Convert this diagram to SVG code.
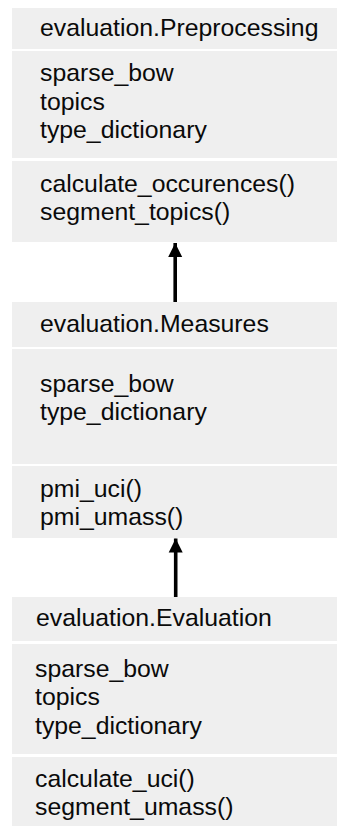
<svg xmlns="http://www.w3.org/2000/svg" width="337" height="826" viewBox="0 0 337 826">
  <style>
    .sec { fill: #efefef; }
    .t { font-family: "Liberation Sans", Arial, Helvetica, sans-serif; font-size: 24.8px; fill: #0a0a0a; }
    .conn { stroke: #000; stroke-width: 3.6; fill: none; }
  </style>
  <defs>
    <marker id="head" markerUnits="userSpaceOnUse" markerWidth="16" markerHeight="16" viewBox="0 0 16 16" refX="14" refY="8" orient="auto">
      <path d="M0,1 L14,8 L0,15 Z" fill="#000"/>
    </marker>
  </defs>
  <rect width="337" height="826" fill="#fff"/>

  <!-- class: evaluation.Preprocessing -->
  <g id="preprocessing">
    <rect class="sec" x="12" y="8" width="325" height="41"/>
    <rect class="sec" x="12" y="51" width="325" height="107"/>
    <rect class="sec" x="12" y="161" width="325" height="81"/>
    <text class="t" x="40" y="36">evaluation.Preprocessing</text>
    <text class="t" x="40" y="81">sparse_bow</text>
    <text class="t" x="40" y="109.5">topics</text>
    <text class="t" x="40" y="138">type_dictionary</text>
    <text class="t" x="40" y="191.5">calculate_occurences()</text>
    <text class="t" x="40" y="220">segment_topics()</text>
  </g>

  <!-- class: evaluation.Measures -->
  <g id="measures">
    <rect class="sec" x="12" y="302" width="325" height="45"/>
    <rect class="sec" x="12" y="349" width="325" height="115"/>
    <rect class="sec" x="12" y="466" width="325" height="72"/>
    <text class="t" x="40" y="331.5">evaluation.Measures</text>
    <text class="t" x="40" y="391.5">sparse_bow</text>
    <text class="t" x="40" y="420">type_dictionary</text>
    <text class="t" x="40" y="496.5">pmi_uci()</text>
    <text class="t" x="40" y="525">pmi_umass()</text>
  </g>

  <!-- class: evaluation.Evaluation -->
  <g id="evaluation">
    <rect class="sec" x="12" y="597" width="325" height="44"/>
    <rect class="sec" x="12" y="644" width="325" height="110"/>
    <rect class="sec" x="12" y="757" width="325" height="69"/>
    <text class="t" x="36" y="626">evaluation.Evaluation</text>
    <text class="t" x="35" y="676.5">sparse_bow</text>
    <text class="t" x="35" y="705">topics</text>
    <text class="t" x="35" y="733.5">type_dictionary</text>
    <text class="t" x="35" y="786.5">calculate_uci()</text>
    <text class="t" x="35" y="815">segment_umass()</text>
  </g>

  <!-- dependency arrows -->
  <g id="connectors">
    <line class="conn" x1="175.2" y1="302" x2="175.2" y2="243" marker-end="url(#head)"/>
    <line class="conn" x1="175.7" y1="597" x2="175.7" y2="538.5" marker-end="url(#head)"/>
  </g>
</svg>
